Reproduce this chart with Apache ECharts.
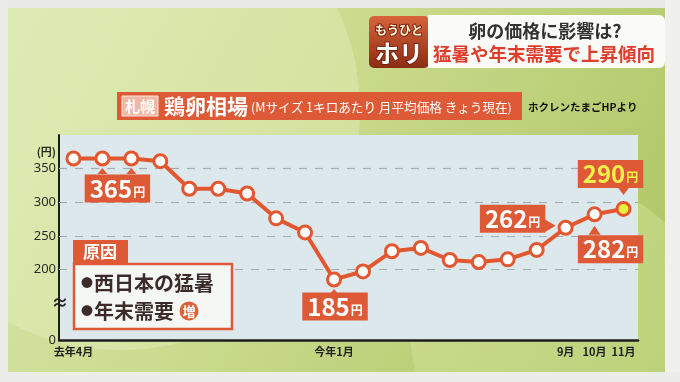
<!DOCTYPE html>
<html><head><meta charset="utf-8">
<script src="https://cdn.jsdelivr.net/npm/echarts@6/dist/echarts.min.js"></script>
<style>html,body{margin:0;padding:0;background:#ececea}#c{width:680px;height:382px}</style>
</head><body><div id="c"></div>
<script>
// ---- data ----
const months = ['去年4月','去年5月','去年6月','去年7月','去年8月','去年9月','去年10月','去年11月','去年12月','今年1月','今年2月','今年3月','今年4月','今年5月','今年6月','今年7月','今年8月','今年9月','今年10月','今年11月'];
const prices = [365,365,365,361,320,320,313,276,255,185,197,227,232,214,211,215,229,262,282,290];
const tickMonths = ['去年4月','今年1月','今年9月','今年10月','今年11月'];
const tickTexts = ['去年4月','今年1月','9月','10月','11月'];
const yTickValues = [200,250,300,350];
const yZeroText = '0';
const yUnit = '(円)';
const calloutMonths = ['去年5月','今年1月','今年9月','今年10月','今年11月'];
const calloutTexts = ['365','185','262','282','290'];
const arrowMonths = ['去年5月','去年6月','今年1月','今年9月','今年10月','今年11月'];
const headline1 = '卵の価格に影響は?';
const headline2 = '猛暑や年末需要で上昇傾向';
const badgeTop = 'もうひと';
const badgeMain = 'ホリ';
const titlePlace = '札幌';
const titleMain = '鶏卵相場';
const titleSub = '(Mサイズ 1キロあたり 月平均価格 きょう現在)';
const sourceText = 'ホクレンたまごHPより';
const causeTitle = '原因';
const causeBullet = '●';
const causes = ['西日本の猛暑', '年末需要'];
const causeMark = '増';

// ---- styles ----
const JP = "'Noto Sans CJK JP','Noto Sans',sans-serif";
const ORANGE = '#de5a36';
const calloutOffset = {
  '去年5月': [15, 30], '今年1月': [1, 27], '今年9月': [-53, -9],
  '今年10月': [16, 35], '今年11月': [-13, -35]
};
const arrowStyle = {
  '去年5月': {rot: 0, off: [0, 12.5], size: [10, 6]},
  '去年6月': {rot: 0, off: [0, 12.5], size: [10, 6]},
  '今年1月': {rot: 0, off: [0, 12.5], size: [10, 6]},
  '今年9月': {rot: -90, off: [-15.5, -2], size: [13, 11]},
  '今年10月': {rot: 0, off: [0, 16], size: [12, 9]},
  '今年11月': {rot: 180, off: [0, -18], size: [12, 8]}
};

const chart = echarts.init(document.getElementById('c'), null, {renderer: 'canvas'});

const seriesData = prices.map((v, i) => {
  const m = months[i];
  const item = {value: v};
  const ci = calloutMonths.indexOf(m);
  if (ci >= 0) {
    const yellow = m === '今年11月';
    const col = yellow ? '#f3ef4c' : '#ffffff';
    item.label = {
      show: true, position: 'inside', offset: calloutOffset[m],
      formatter: '{n|' + calloutTexts[ci] + '}{u|円}',
      backgroundColor: ORANGE, padding: [1, 5, 1, 5],
      rich: {
        n: {fontSize: 24, fontWeight: 'bold', color: col, fontFamily: JP, lineHeight: 26},
        u: {fontSize: 12, fontWeight: 'bold', color: col, fontFamily: JP, padding: [7, 0, 0, 1]}
      }
    };
  }
  if (i === prices.length - 1) item.itemStyle = {color: '#e6ef3c'};
  return item;
});

const causeRich = {
  b: {fontSize: 12, fontFamily: JP, fill: '#3b2b2b', padding: [0, 1, 0, 0]},
  t: {fontSize: 20, fontWeight: 'bold', fontFamily: JP, fill: '#3b2b2b'}
};

const bgGraphics = [
  {type: 'rect', z: -30, shape: {x: 8, y: 8, width: 657, height: 364},
    style: {fill: new echarts.graphic.LinearGradient(0, 0, 1, 1, [
      {offset: 0, color: '#d8e6aa'}, {offset: 0.45, color: '#c9da8c'}, {offset: 1, color: '#adc462'}])}},
  {type: 'circle', z: -29, shape: {cx: 120, cy: 110, r: 240}, style: {fill: 'rgba(236,244,200,0.35)'}},
  {type: 'circle', z: -29, shape: {cx: 560, cy: 330, r: 150}, style: {fill: 'rgba(220,236,170,0.35)'}},
  {type: 'rect', z: -28, shape: {x: 0, y: 0, width: 680, height: 8}, style: {fill: '#e8e8e4'}},
  {type: 'rect', z: -28, shape: {x: 0, y: 0, width: 8, height: 382}, style: {fill: '#ecece8'}},
  {type: 'rect', z: -28, shape: {x: 665, y: 0, width: 15, height: 382}, style: {fill: '#f0f0ec'}},
  {type: 'rect', z: -28, shape: {x: 0, y: 372, width: 680, height: 10}, style: {fill: '#ecece8'}},
  // headline
  {type: 'rect', z: 10, shape: {x: 369, y: 16, width: 60, height: 52, r: 5},
    style: {fill: new echarts.graphic.LinearGradient(0, 0, 0, 1, [{offset: 0, color: '#d8643a'}, {offset: 1, color: '#8a2c14'}])}},
  {type: 'rect', z: 10, shape: {x: 428, y: 15, width: 237, height: 53, r: [0, 6, 6, 0]}, style: {fill: '#fbfbf7'}},
  {type: 'text', z: 11, style: {x: 399, y: 30, text: badgeTop, fill: '#fff3d6', font: 'bold 12px ' + JP, align: 'center', verticalAlign: 'middle', stroke: '#7a2410', lineWidth: 2}},
  {type: 'text', z: 11, style: {x: 399, y: 53, text: badgeMain, fill: '#ffffff', font: 'bold 24px ' + JP, align: 'center', verticalAlign: 'middle', stroke: '#7a2410', lineWidth: 2}},
  {type: 'text', z: 11, style: {x: 545, y: 31, text: headline1, fill: '#333333', font: 'bold 18px ' + JP, align: 'center', verticalAlign: 'middle'}},
  {type: 'text', z: 11, style: {x: 544, y: 54, text: headline2, fill: '#e03c2c', font: 'bold 18.5px ' + JP, align: 'center', verticalAlign: 'middle'}},
  // title band
  {type: 'rect', z: 10, shape: {x: 117, y: 92, width: 405, height: 28}, style: {fill: ORANGE}},
  {type: 'rect', z: 11, shape: {x: 122, y: 96, width: 36, height: 20}, style: {fill: '#f0b8a4', stroke: '#fbe6dc', lineWidth: 1}},
  {type: 'text', z: 12, style: {x: 140, y: 106, text: titlePlace, fill: '#ffffff', font: 'bold 15px ' + JP, align: 'center', verticalAlign: 'middle'}},
  {type: 'text', z: 12, style: {x: 164, y: 106, text: titleMain, fill: '#ffffff', font: 'bold 21px ' + JP, verticalAlign: 'middle'}},
  {type: 'text', z: 12, style: {x: 251, y: 107, text: titleSub, fill: '#ffffff', font: '12.6px ' + JP, verticalAlign: 'middle'}},
  {type: 'text', z: 12, style: {x: 528, y: 107, text: sourceText, fill: '#111111', font: 'bold 10.5px ' + JP, verticalAlign: 'middle'}},
  // cause box
  {type: 'rect', z: 20, shape: {x: 73, y: 240, width: 55, height: 24}, style: {fill: ORANGE}},
  {type: 'text', z: 21, style: {x: 100, y: 252, text: causeTitle, fill: '#ffffff', font: 'bold 17px ' + JP, align: 'center', verticalAlign: 'middle'}},
  {type: 'rect', z: 20, shape: {x: 74, y: 264, width: 158, height: 65}, style: {fill: '#f4f7f3', stroke: ORANGE, lineWidth: 2.5}},
  {type: 'text', z: 21, style: {x: 81, y: 283, text: '{b|' + causeBullet + '}{t|' + causes[0] + '}', rich: causeRich, verticalAlign: 'middle'}},
  {type: 'text', z: 21, style: {x: 81, y: 311, text: '{b|' + causeBullet + '}{t|' + causes[1] + '}', rich: causeRich, verticalAlign: 'middle'}},
  {type: 'circle', z: 21, shape: {cx: 189, cy: 311, r: 9.5}, style: {fill: '#e0603a'}},
  {type: 'text', z: 22, style: {x: 189, y: 311, text: causeMark, fill: '#ffffff', font: 'bold 13px ' + JP, align: 'center', verticalAlign: 'middle'}}
];

const option = {
  animation: false,
  backgroundColor: '#ececea',
  grid: {left: 59, right: 42, top: 135, bottom: 42, show: true, backgroundColor: '#dde8ec', borderWidth: 0},
  xAxis: {
    type: 'category', data: months, boundaryGap: true,
    axisLine: {lineStyle: {color: '#1e1e1e', width: 2.5}},
    axisTick: {show: false},
    axisLabel: {
      interval: 0, margin: 6, color: '#222', fontSize: 11, fontWeight: 'bold', fontFamily: JP,
      formatter: v => { const k = tickMonths.indexOf(v); return k >= 0 ? tickTexts[k] : ''; }
    },
    splitLine: {show: false}
  },
  yAxis: {
    type: 'value', min: 95, max: 400, interval: 5,
    axisLine: {show: true, lineStyle: {color: '#1e1e1e', width: 2}},
    axisTick: {show: false},
    splitLine: {show: false},
    axisLabel: {
      margin: 3, color: '#2a2a2a', fontSize: 13, fontFamily: "'Noto Sans',sans-serif",
      formatter: v => v === 95 ? yZeroText : (v === 375 ? '{u|' + yUnit + '}' : (yTickValues.includes(v) ? String(v) : '')),
      rich: {u: {fontSize: 11, color: '#2a2a2a', fontFamily: JP, fontWeight: 'bold'}}
    }
  },
  graphic: {elements: bgGraphics},
  series: [{
    type: 'line', data: seriesData, z: 5,
    symbol: 'circle', symbolSize: 13, showAllSymbol: true,
    lineStyle: {color: '#e2572f', width: 4},
    itemStyle: {color: '#ffffff', borderColor: '#e2572f', borderWidth: 3},
    emphasis: {disabled: true},
    markLine: {
      silent: true, symbol: 'none', label: {show: false}, z: 1,
      lineStyle: {type: [8, 8], color: '#a2adb2', width: 1.2},
      data: yTickValues.map(v => ({yAxis: v}))
    },
    markPoint: {
      silent: true, symbol: 'triangle', label: {show: false},
      itemStyle: {color: ORANGE},
      data: arrowMonths.map(m => ({
        coord: [m, prices[months.indexOf(m)]],
        symbolRotate: arrowStyle[m].rot, symbolOffset: arrowStyle[m].off, symbolSize: arrowStyle[m].size
      }))
    }
  }]
};
chart.setOption(option);

// axis break mark placed via the library's scale
const brkY = chart.convertToPixel({yAxisIndex: 0}, 150);
chart.setOption({graphic: {elements: [
  {id: 'brk', type: 'text', z: 30, style: {x: 60, y: brkY, text: '≈', fill: '#222', font: 'bold 17px ' + JP, align: 'center', verticalAlign: 'middle'}}
]}});
</script></body></html>
